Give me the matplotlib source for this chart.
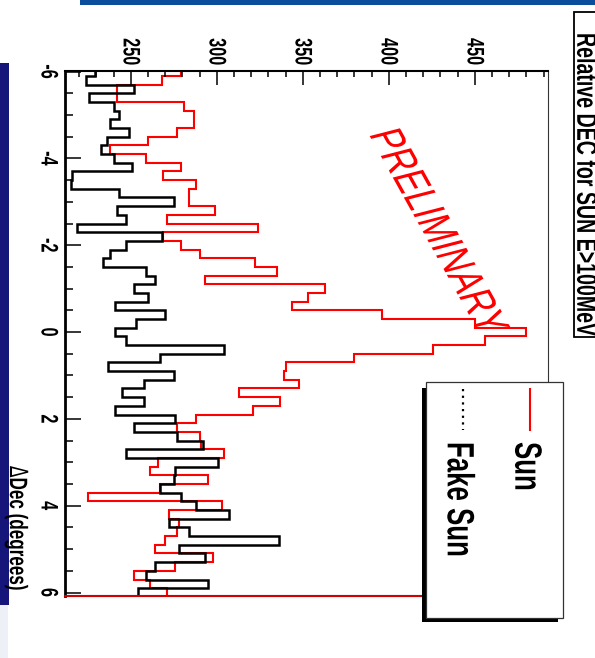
import numpy as np
import matplotlib.pyplot as plt
from matplotlib.patches import Rectangle
from matplotlib.lines import Line2D
from matplotlib.patheffects import AbstractPathEffect
from matplotlib.transforms import Affine2D

plt.rcParams['font.family'] = ['Liberation Sans', 'DejaVu Sans']

# 0.2 degree bins from -6.1 to 6.1
edges = np.linspace(-6.1, 6.1, 62)

sun = [279, 268, 242, 242, 281, 287, 287, 277, 260, 238,
       259, 279, 269, 288, 284, 284, 299, 271, 324, 269,
       279, 290, 322, 335, 293, 363, 353, 344, 396, 450,
       480, 456, 426, 380, 340, 339, 348, 313, 337, 321,
       288, 277, 290, 291, 304, 266, 261, 295, 267, 225,
       303, 272, 278, 277, 270, 264, 298, 276, 252, 261,
       271]

fake_sun = [229, 224, 252, 226, 240, 243, 238, 249, 236, 233,
            240, 251, 216, 215, 243, 275, 242, 247, 219, 268,
            247, 238, 234, 259, 264, 252, 260, 241, 270, 253,
            241, 247, 304, 267, 237, 275, 258, 245, 258, 241,
            276, 252, 277, 292, 247, 301, 276, 275, 267, 279,
            288, 307, 272, 284, 336, 278, 293, 264, 259, 295,
            254]

count_ticks = [250, 300, 350, 400, 450]
dec_ticks = [-6, -4, -2, 0, 2, 4, 6]

W, H = 595, 658


class Widen(AbstractPathEffect):
    """Draw text stretched sideways about its own centre."""

    def __init__(self, sx=1.47):
        super().__init__()
        self.sx = sx

    def draw_path(self, renderer, gc, tpath, affine, rgbFace=None):
        ext = tpath.get_extents()
        cx = affine.transform([[(ext.x0 + ext.x1) / 2, (ext.y0 + ext.y1) / 2]])[0][0]
        m = affine.get_matrix().copy()
        m[0, :] *= self.sx
        m[0, 2] += (1 - self.sx) * cx
        renderer.draw_path(gc, tpath, Affine2D(m), rgbFace)


def fx(x):
    return x / W


def fy(y):
    return 1 - y / H


def frect(x0, y0, x1, y1, **kw):
    r = Rectangle((fx(x0), fy(y1)), (x1 - x0) / W, (y1 - y0) / H,
                  transform=fig.transFigure, **kw)
    fig.add_artist(r)
    return r


def ftext(x, y, s, **kw):
    t = fig.text(fx(x), fy(y), s, rotation=-90, path_effects=[Widen()], **kw)
    return t


fig = plt.figure(figsize=(W / 100, H / 100), dpi=100)

# slide background bits
frect(80, 0, 595, 5, facecolor='#0b4f9c', edgecolor='none', zorder=0)
frect(0, 63, 9, 605, facecolor='#15157a', edgecolor='none', zorder=0)
frect(0, 605, 8, 658, facecolor='#eef0f8', edgecolor='none', zorder=0)

ax = fig.add_axes([fx(64.5), fy(596), (548 - 64.5) / W, (596 - 70.7) / H])

ax.stairs(sun, edges, orientation='horizontal', baseline=None,
          color='red', lw=1.5)
ax.stairs(fake_sun, edges, orientation='horizontal', baseline=None,
          color='black', lw=1.8)

ax.set_xlim(211.5, 492.6)
ax.set_ylim(6.08, -6.02)

# counts axis along the top
ax.xaxis.tick_top()
ax.set_xticks(count_ticks)
ax.set_xticklabels([str(v) for v in count_ticks])
ax.set_xticks(np.arange(220, 491, 10), minor=True)
ax.tick_params(axis='x', which='both', direction='in', top=True, bottom=False,
               labeltop=True, labelbottom=False, width=1.1, pad=4)
ax.tick_params(axis='x', which='major', length=10)
ax.tick_params(axis='x', which='minor', length=4.5)

# declination axis along the left
ax.set_yticks(dec_ticks)
ax.set_yticklabels([str(v) for v in dec_ticks])
ax.set_yticks(np.arange(-6, 6.01, 0.5), minor=True)
ax.tick_params(axis='y', which='both', direction='in', left=True, right=False,
               width=1.1, pad=6)
ax.tick_params(axis='y', which='major', length=11.5)
ax.tick_params(axis='y', which='minor', length=6)

for lab in ax.get_xticklabels() + ax.get_yticklabels():
    lab.set_rotation(-90)
    lab.set_fontsize(11.7)
    lab.set_fontweight('bold')
    lab.set_path_effects([Widen()])
for lab in ax.get_yticklabels():
    lab.set_verticalalignment('center')

ax.spines['left'].set_linewidth(2.0)
ax.spines['top'].set_linewidth(1.5)
ax.spines['right'].set_linewidth(0.8)
ax.spines['right'].set_color('#333333')
ax.spines['bottom'].set_linewidth(1.5)
ax.axhline(6.08, color='red', lw=1.2, clip_on=False, zorder=3)

ftext(17, 592, r'$\Delta$Dec (degrees)', ha='center', va='bottom',
      fontsize=12.3, fontweight='bold')

# watermark
fig.text(fx(437), fy(232), 'PRELIMINARY', color='red', fontsize=23,
         rotation=-69.3, rotation_mode='anchor', ha='center', va='center',
         path_effects=[Widen()], zorder=4)

# title box on the right
frect(574, 12, 605, 337, facecolor='white', edgecolor='black', lw=1.3, zorder=5)
ftext(586, 33, 'Relative DEC for SUN E>100MeV', ha='center', va='top',
      fontsize=14.1, fontweight='bold', zorder=6)

# legend with its shadow
frect(421.5, 388, 558, 622, facecolor='black', edgecolor='none', zorder=5)
frect(426, 381.7, 563, 618, facecolor='white', edgecolor='#333333', lw=0.9, zorder=6)
fig.add_artist(Line2D([fx(530), fx(530)], [fy(389), fy(430)], color='red',
                      lw=1.5, transform=fig.transFigure, zorder=7))
fig.add_artist(Line2D([fx(462.7), fx(462.7)], [fy(389), fy(430)], color='black',
                      lw=1.6, ls=(0, (1, 2)), transform=fig.transFigure, zorder=7))
ftext(526.5, 442, 'Sun', ha='center', va='top', fontsize=18.6,
      fontweight='bold', zorder=7)
ftext(459, 442, 'Fake Sun', ha='center', va='top', fontsize=18.6,
      fontweight='bold', zorder=7)

fig.savefig('out.png', dpi=100)
